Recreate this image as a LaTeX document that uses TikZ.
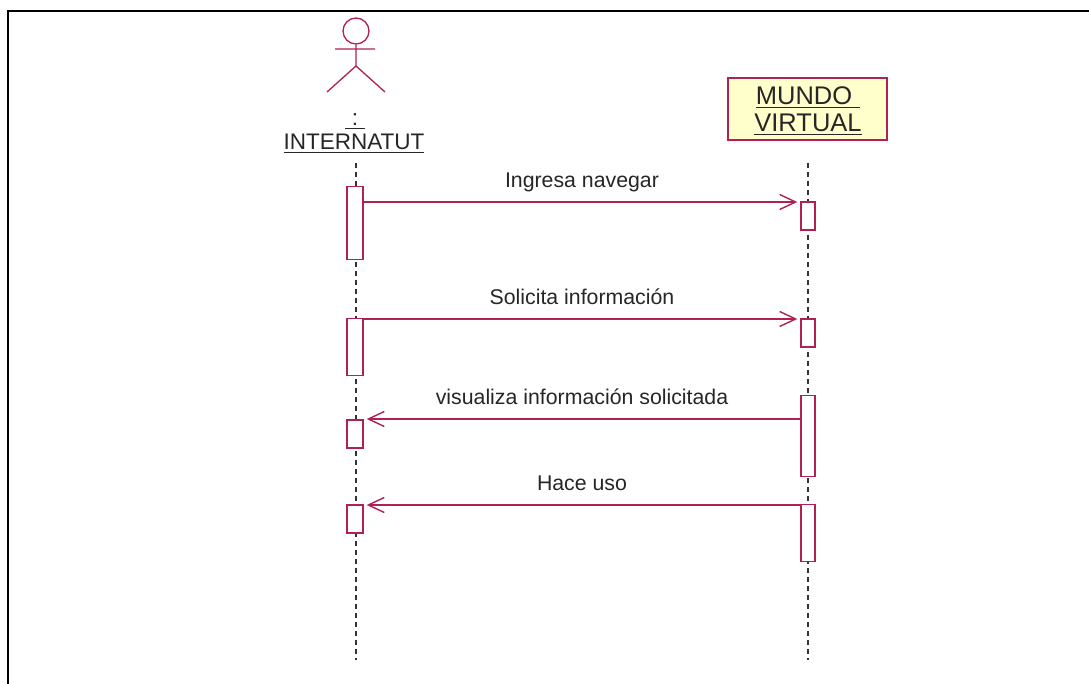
\documentclass[tikz,border=0pt]{standalone}
\usepackage{fontspec}
\setmainfont{Liberation Sans}
\usetikzlibrary{arrows.meta}
\definecolor{umlred}{RGB}{176,32,84}
\definecolor{umlfill}{RGB}{255,255,204}
\newcommand{\ulabel}[1]{\setbox0\hbox{#1}\rlap{\rule[-3pt]{\wd0}{1.4pt}}\box0}
\tikzset{
    lifeline/.style = {dash pattern = on 5pt off 4pt, line width = 1.5pt, black!80},
    bar/.style = {draw = umlred, fill = white, line width = 1.4pt, minimum width = 16pt, inner sep = 0pt},
    msg/.style = {draw = umlred, line width = 1.4pt, shorten > = 3pt, -{Straight Barb[length = 16pt, width = 15pt]}},
    lbl/.style = {font = \fontsize{21.3}{23}\selectfont, text = black!85, inner sep = 0pt, text height = 15pt, text depth = 4pt},
    title/.style = {font = \fontsize{22.5}{24}\selectfont, text = black!85, inner sep = 0pt, anchor = base},
    big/.style = {font = \fontsize{25.5}{27}\selectfont, text = black!85, inner sep = 0pt, anchor = base}
}
\begin{document}
\begin{tikzpicture}[x = 1pt, y = -1pt]
\useasboundingbox (0,0) rectangle (1089,684);
\fill [white] (0,0) rectangle (1089,684);
% frame
\draw [line width = 2pt] (8,684) -- (8,11) -- (1089,11);
% lifelines
\coordinate (int top) at (356,163);
\coordinate (int end) at (356,660);
\coordinate (mun top) at (808,163);
\coordinate (mun end) at (808,660);
\draw [lifeline] (int top) -- (int end);
\draw [lifeline] (mun top) -- (mun end);
% actor
\node (head) [draw = umlred, circle, line width = 1.3pt, minimum size = 26pt, inner sep = 0pt] at (356,31) {};
\coordinate (hip) at (356,66);
\draw [umlred, line width = 1.3pt] (head.south) -- (hip) -- (327,92) (hip) -- (385,92) (335,49) -- (375,49);
\node (dots) [title] at (355,126) {\ulabel{\hspace{7pt}:\hspace{7pt}}};
\node (actor) [title] at (354,150) {\ulabel{INTERNATUT}};
% object
\node (mundo) [draw = umlred, fill = umlfill, line width = 1.4pt, minimum width = 159pt, minimum height = 62pt, inner sep = 0pt] at (807.5,109) {};
\node (mundoa) [big] at (808,105) {\ulabel{MUNDO\hspace{8pt}}};
\node (mundob) [big] at (808,132) {\ulabel{VIRTUAL}};
% activations
\node (a1) [bar, minimum height = 73pt] at (355,223) {};
\node (a2) [bar, minimum height = 57pt] at (355,347) {};
\node (a3) [bar, minimum height = 28pt] at (355,434) {};
\node (a4) [bar, minimum height = 28pt] at (355,519) {};
\node (b1) [bar, minimum height = 28pt, minimum width = 14pt] at (808,216) {};
\node (b2) [bar, minimum height = 28pt, minimum width = 14pt] at (808,333) {};
\node (b3) [bar, minimum height = 81pt, minimum width = 14pt] at (808,436) {};
\node (b4) [bar, minimum height = 57pt, minimum width = 14pt] at (808,533) {};
% messages
\draw [msg] (a1.east |- 0,202) -- (b1.west |- 0,202) node [lbl, midway, above = 10pt] {Ingresa navegar};
\draw [msg] (a2.east |- 0,319) -- (b2.west |- 0,319) node [lbl, midway, above = 10pt] {Solicita información};
\draw [msg] (b3.west |- 0,419) -- (a3.east |- 0,419) node [lbl, midway, above = 10pt] {visualiza información solicitada};
\draw [msg] (b4.west |- 0,505) -- (a4.east |- 0,505) node [lbl, midway, above = 10pt] {Hace uso};
\end{tikzpicture}
\end{document}
